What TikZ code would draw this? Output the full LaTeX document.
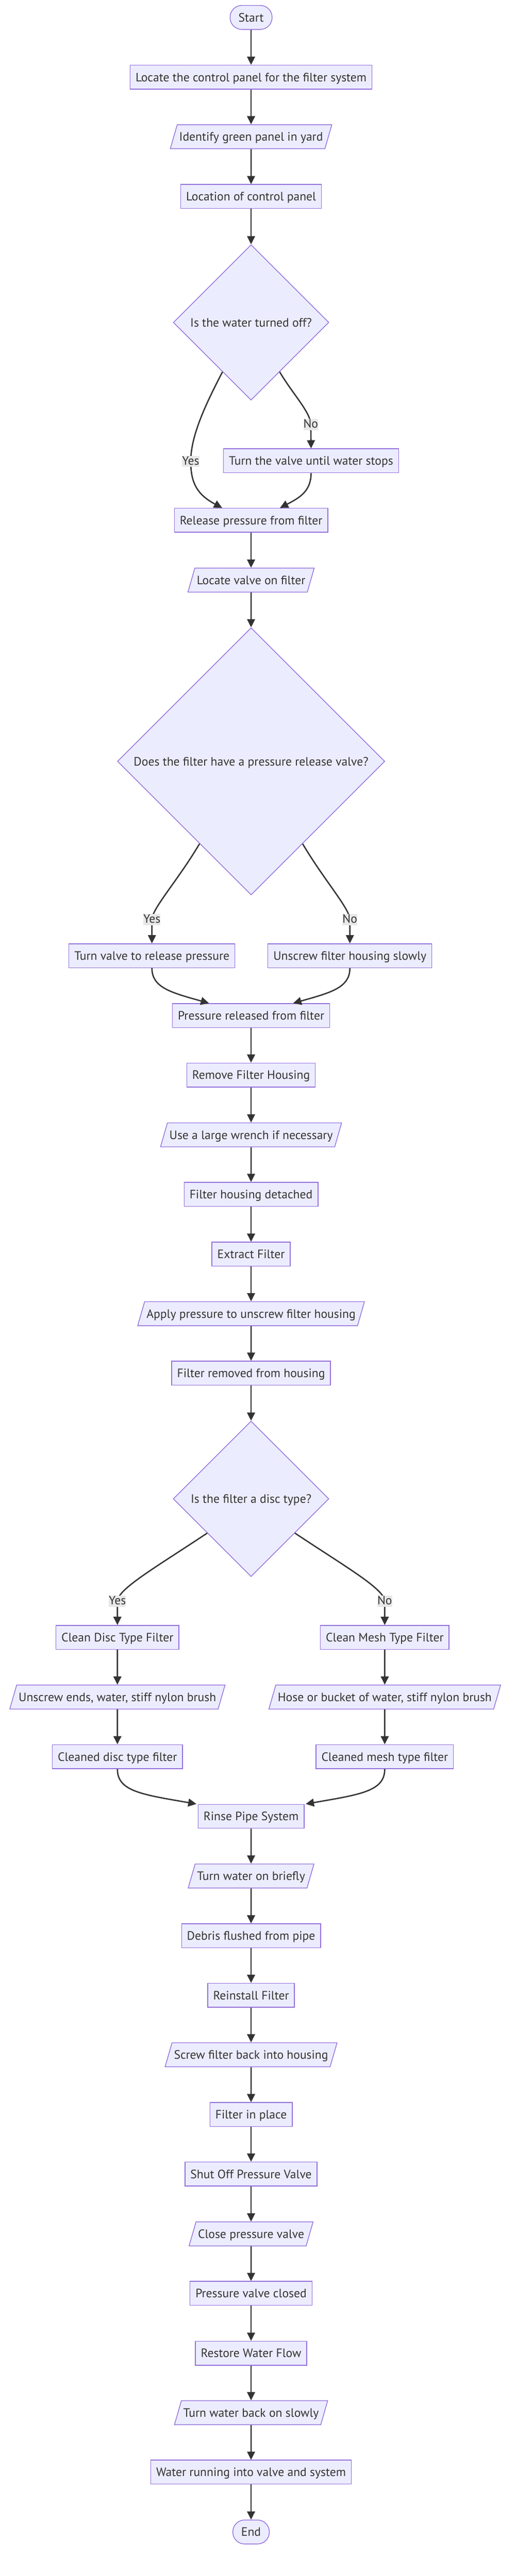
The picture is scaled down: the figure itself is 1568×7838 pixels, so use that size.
\documentclass[tikz,border=0pt]{standalone}
\usepackage{fontspec}
\setmainfont{PT Sans}
\usetikzlibrary{shapes.geometric,arrows.meta}

\definecolor{nodefill}{HTML}{ECECFF}
\definecolor{nodeline}{HTML}{9370DB}
\definecolor{ink}{HTML}{333333}
\definecolor{lblfill}{HTML}{E8E8E8}

\begin{document}
\begin{tikzpicture}[x=1pt, y=-1pt,
  every node/.style={font=\fontsize{37}{44}\selectfont, text=ink},
  box/.style={draw=nodeline, fill=nodefill, line width=2.2pt, minimum height=73pt,
    inner xsep=16.5pt, inner ysep=0pt, text height=34pt, text depth=8pt},
  io/.style={box, trapezium, trapezium stretches=true, trapezium left angle=63.4,
    trapezium right angle=116.6, inner xsep=6pt},
  term/.style={box, rounded corners=36pt, inner xsep=25.5pt},
  ask/.style={box, diamond, aspect=1, inner sep=0pt},
  flow/.style={draw=ink, line width=4pt, -{Triangle[length=25pt,width=24pt]}},
  lbl/.style={fill=lblfill, inner sep=0pt, text height=27pt, text depth=7pt}]
  \useasboundingbox (0,0) rectangle (1568,7838);

  % top part
  \node[term] (start) at (763.5,53) {Start};
  \node[box] (locate) at (763.5,235) {Locate the control panel for the filter system};
  \node[io] (identify) at (763.5,416) {Identify green panel in yard};
  \node[box] (location) at (763.5,598) {Location of control panel};
  \node[ask, minimum width=473pt, minimum height=473pt] (water) at (763.5,981) {Is the water turned off?};
  \node[box] (turnvalve) at (946,1402) {Turn the valve until water stops};
  \node[box] (release) at (763.5,1583) {Release pressure from filter};
  \node[io] (locvalve) at (763.5,1765) {Locate valve on filter};
  \node[ask, minimum width=813pt, minimum height=813pt] (hasvalve) at (763.5,2316.5) {Does the filter have a pressure release valve?};
  \node[box] (turnrel) at (462,2908) {Turn valve to release pressure};
  \node[box] (unscrew) at (1064,2908) {Unscrew filter housing slowly};
  \node[box] (released) at (763.5,3090) {Pressure released from filter};

  % removing the filter
  \node[box] (remove) at (763.5,3271) {Remove Filter Housing};
  \node[io] (wrench) at (763.5,3453) {Use a large wrench if necessary};
  \node[box] (detached) at (763.5,3634) {Filter housing detached};
  \node[box] (extract) at (763.5,3816) {Extract Filter};
  \node[io] (applyp) at (763.5,3997) {Apply pressure to unscrew filter housing};
  \node[box] (removed) at (763.5,4178) {Filter removed from housing};
  \node[ask, minimum width=473pt, minimum height=473pt] (disctype) at (763.5,4560.5) {Is the filter a disc type?};
  \node[box] (disc) at (357,4982) {Clean Disc Type Filter};
  \node[box] (mesh) at (1170,4982) {Clean Mesh Type Filter};
  \node[io] (discin) at (357,5163.5) {Unscrew ends, water, stiff nylon brush};
  \node[io] (meshin) at (1170,5163.5) {Hose or bucket of water, stiff nylon brush};
  \node[box] (discout) at (357,5345) {Cleaned disc type filter};
  \node[box] (meshout) at (1170,5345) {Cleaned mesh type filter};

  % putting it back
  \node[box] (rinse) at (763.5,5526.5) {Rinse Pipe System};
  \node[io] (briefly) at (763.5,5708) {Turn water on briefly};
  \node[box] (debris) at (763.5,5890) {Debris flushed from pipe};
  \node[box] (reinstall) at (763.5,6071) {Reinstall Filter};
  \node[io] (screw) at (763.5,6252) {Screw filter back into housing};
  \node[box] (inplace) at (763.5,6434) {Filter in place};
  \node[box] (shutoff) at (763.5,6615) {Shut Off Pressure Valve};
  \node[io] (closev) at (763.5,6797) {Close pressure valve};
  \node[box] (closed) at (763.5,6978) {Pressure valve closed};
  \node[box] (restore) at (763.5,7160) {Restore Water Flow};
  \node[io] (slowly) at (763.5,7341) {Turn water back on slowly};
  \node[box] (running) at (763.5,7522) {Water running into valve and system};
  \node[term] (stop) at (763.5,7704) {End};

  \draw[flow] (start) -- (locate);
  \draw[flow] (locate) -- (identify);
  \draw[flow] (identify) -- (location);
  \draw[flow] (location) -- (water);
  \draw[flow] (water.-120) .. controls (620,1240) and (580,1330) .. (580,1404) node[lbl] (yes1) {Yes}
    .. controls (580,1470) and (600,1505) .. ([xshift=-88pt]release.north);
  \draw[flow] (water.-60) .. controls (891,1200) and (945,1255) .. (945,1292) node[lbl] (no1) {No}
    -- (turnvalve.north);
  \draw[flow] (turnvalve.south) .. controls (946,1495) and (910,1515) .. ([xshift=88pt]release.north);
  \draw[flow] (release) -- (locvalve);
  \draw[flow] (locvalve) -- (hasvalve);
  \draw[flow] (hasvalve.-122) .. controls (540,2680) and (462,2765) .. (462,2798) node[lbl] (yes2) {Yes}
    -- (turnrel.north);
  \draw[flow] (hasvalve.-58) .. controls (987,2680) and (1064,2765) .. (1064,2798) node[lbl] (no2) {No}
    -- (unscrew.north);
  \draw[flow] (turnrel.south) .. controls (462,3005) and (520,3020) .. ([xshift=-128pt]released.north);
  \draw[flow] (unscrew.south) .. controls (1064,3005) and (1007,3020) .. ([xshift=128pt]released.north);
  \draw[flow] (released) -- (remove);
  \draw[flow] (remove) -- (wrench);
  \draw[flow] (wrench) -- (detached);
  \draw[flow] (detached) -- (extract);
  \draw[flow] (extract) -- (applyp);
  \draw[flow] (applyp) -- (removed);
  \draw[flow] (removed) -- (disctype);
  \draw[flow] (disctype.-142) .. controls (480,4765) and (357,4835) .. (357,4872) node[lbl] (yes3) {Yes}
    -- (disc.north);
  \draw[flow] (disctype.-38) .. controls (1047,4765) and (1170,4835) .. (1170,4872) node[lbl] (no3) {No}
    -- (mesh.north);
  \draw[flow] (disc) -- (discin);
  \draw[flow] (discin) -- (discout);
  \draw[flow] (mesh) -- (meshin);
  \draw[flow] (meshin) -- (meshout);
  \draw[flow] (discout.south) .. controls (357,5450) and (430,5460) .. ([xshift=-4pt]rinse.north west);
  \draw[flow] (meshout.south) .. controls (1170,5450) and (1097,5460) .. ([xshift=4pt]rinse.north east);
  \draw[flow] (rinse) -- (briefly);
  \draw[flow] (briefly) -- (debris);
  \draw[flow] (debris) -- (reinstall);
  \draw[flow] (reinstall) -- (screw);
  \draw[flow] (screw) -- (inplace);
  \draw[flow] (inplace) -- (shutoff);
  \draw[flow] (shutoff) -- (closev);
  \draw[flow] (closev) -- (closed);
  \draw[flow] (closed) -- (restore);
  \draw[flow] (restore) -- (slowly);
  \draw[flow] (slowly) -- (running);
  \draw[flow] (running) -- (stop);
\end{tikzpicture}
\end{document}
